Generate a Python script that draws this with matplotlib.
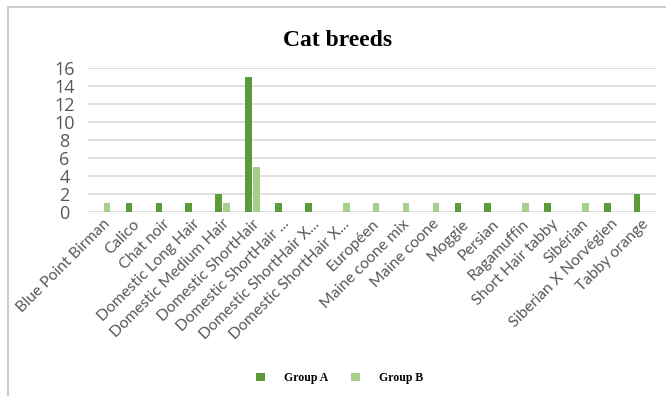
import numpy as np
import matplotlib.pyplot as plt
from matplotlib.patches import Rectangle

breeds = ["Blue Point Birman", "Calico", "Chat noir", "Domestic Long Hair",
          "Domestic Medium Hair", "Domestic ShortHair", "Domestic ShortHair ...",
          "Domestic ShortHair X...", "Domestic ShortHair X...", "Européen",
          "Maine coone mix", "Maine coone", "Moggie", "Persian", "Ragamuffin",
          "Short Hair tabby", "Sibérian", "Siberian X Norvégien", "Tabby orange"]
group_a = [0, 1, 1, 1, 2, 15, 1, 1, 0, 0, 0, 0, 1, 1, 0, 1, 0, 1, 2]
group_b = [1, 0, 0, 0, 1, 5, 0, 0, 1, 1, 1, 1, 0, 0, 1, 0, 1, 0, 0]
yticks = [0, 2, 4, 6, 8, 10, 12, 14, 16]

colA = '#5b9b3a'
colB = '#a6cf8c'
grey = '#595959'

fig = plt.figure(figsize=(6.66, 3.96), dpi=100)
# chart frame, only its top and left edges fall inside the image
fig.patches.append(Rectangle((8/666, -0.1), 1.2, (396-7)/396 + 0.1,
                             transform=fig.transFigure, fill=False,
                             edgecolor='#cccccc', lw=1.5))
ax = fig.add_axes([88/666, 1-212/396, (656-88)/666, 144/396])

x = np.arange(len(breeds))
w = 0.22
ax.bar(x - 0.13, group_a, w, color=colA, label='Group A', zorder=3)
ax.bar(x + 0.14, group_b, w, color=colB, label='Group B', zorder=3)

ax.set_xlim(-0.5, len(breeds) - 0.5)
ax.set_ylim(0, 16)
ax.set_yticks(yticks)
ax.yaxis.grid(True, color='#d9d9d9', lw=1.2, zorder=0)
for s in ax.spines.values():
    s.set_visible(False)
ax.tick_params(length=0, colors=grey, labelsize=13)
ax.tick_params(axis='y', pad=17)
for t in ax.get_yticklabels():
    t.set_family('Open Sans')
    t.set_horizontalalignment('center')
ax.set_xticks(x)
ax.set_xticklabels(breeds, rotation=45, ha='right', rotation_mode='anchor',
                   family='Lato', fontsize=11.3, color=grey)

fig.text(0.507, 0.898, 'Cat breeds', ha='center', va='center',
         family='Liberation Serif', fontweight='bold', fontsize=17)
fig.legend(loc='center', bbox_to_anchor=(0.51, 0.045), ncol=2, frameon=False,
           prop={'family': 'Liberation Serif', 'weight': 'bold', 'size': 8.5},
           handlelength=0.7, handleheight=0.7, columnspacing=2.0, handletextpad=1.6)

fig.savefig('out.png', dpi=100, facecolor='white')
